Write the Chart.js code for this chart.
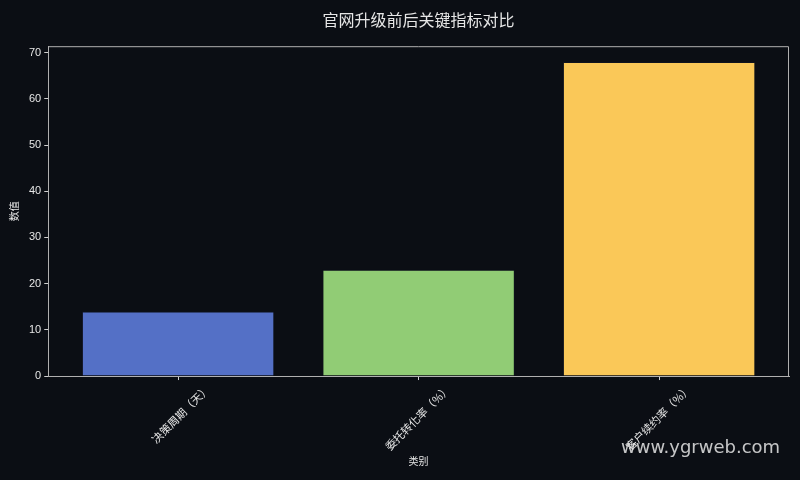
<!DOCTYPE html>
<html>
<head>
<meta charset="utf-8">
<script src="https://cdn.jsdelivr.net/npm/chart.js@4.4.1/dist/chart.umd.min.js"></script>
<style>
  html, body { margin: 0; padding: 0; background: #0b0e14; }
  #wrap { position: relative; width: 800px; height: 480px; }
  #watermark {
    position: absolute; left: 621px; top: 436px;
    font-family: "DejaVu Sans", sans-serif; font-size: 18px;
    color: rgba(230, 230, 230, 0.85);
  }
</style>
</head>
<body>
<div id="wrap">
  <canvas id="myChart" width="800" height="480"></canvas>
  <div id="watermark">www.ygrweb.com</div>
</div>
<script>
// 数据
const categories = ['决策周期（天）', '委托转化率（%）', '客户续约率（%）'];
const values = [14, 23, 68];
const barColors = ['#5470c6', '#91cc75', '#fac858'];
const yTicks = [0, 10, 20, 30, 40, 50, 60, 70];

const fontCJK = '"Noto Sans CJK SC", "DejaVu Sans", sans-serif';
const fontTick = '"Noto Sans CJK TC", "Noto Sans CJK SC", sans-serif';
const textColor = '#e6e6e6';
const spineColor = '#b0b0b0';

// draw the top / right spines like a full frame
const framePlugin = {
    id: 'frame',
    afterDraw(chart) {
        const a = chart.chartArea;
        const c = chart.ctx;
        c.save();
        c.strokeStyle = spineColor;
        c.lineWidth = 1;
        c.beginPath();
        c.moveTo(a.left, a.top + 0.5);
        c.lineTo(a.right - 0.5, a.top + 0.5);
        c.lineTo(a.right - 0.5, a.bottom);
        c.stroke();
        c.restore();
    }
};

const ctx = document.getElementById('myChart').getContext('2d');
window.myChart = new Chart(ctx, {
    type: 'bar',
    data: {
        datasets: [{
            label: '数值',
            data: values.map((v, i) => ({ x: i, y: v })),
            backgroundColor: barColors,
            borderColor: 'rgba(20, 24, 40, 0.5)',
            borderWidth: 1,
            barPercentage: 0.8,
            categoryPercentage: 1.0
        }]
    },
    options: {
        responsive: false,
        animation: false,
        layout: { padding: { left: 8, right: 11, top: 4, bottom: 5 } },
        plugins: {
            legend: { display: false },
            tooltip: { enabled: false },
            title: {
                display: true,
                fullSize: false,
                text: '官网升级前后关键指标对比',
                color: textColor,
                font: { family: fontCJK, size: 16, weight: 'normal' },
                padding: { top: 6, bottom: 17 }
            }
        },
        scales: {
            x: {
                type: 'linear',
                offset: false,
                min: -0.54,
                max: 2.54,
                afterBuildTicks(scale) {
                    scale.ticks = categories.map((c, i) => ({ value: i }));
                },
                ticks: {
                    color: textColor,
                    font: { family: fontTick, size: 11 },
                    minRotation: 45,
                    maxRotation: 45,
                    labelOffset: 30,
                    padding: 2,
                    callback: (v) => categories[v]
                },
                grid: {
                    display: true,
                    offset: false,
                    drawOnChartArea: false,
                    drawTicks: true,
                    tickLength: 4,
                    color: '#d0d0d0'
                },
                border: { color: spineColor, width: 1 },
                title: {
                    display: true,
                    text: '类别',
                    color: textColor,
                    font: { family: fontCJK, size: 10 },
                    padding: { top: 0, bottom: 8 }
                }
            },
            y: {
                min: 0,
                max: 71.4,
                afterBuildTicks(scale) {
                    scale.ticks = yTicks.map(v => ({ value: v }));
                },
                ticks: {
                    color: textColor,
                    font: { family: '"Liberation Sans", sans-serif', size: 11 },
                    padding: 3
                },
                grid: {
                    display: true,
                    drawOnChartArea: false,
                    drawTicks: true,
                    tickLength: 4,
                    color: '#d0d0d0'
                },
                border: { color: spineColor, width: 1 },
                title: {
                    display: true,
                    text: '数值',
                    color: textColor,
                    font: { family: fontCJK, size: 10 },
                    padding: { top: 0, bottom: 6 }
                }
            }
        }
    },
    plugins: [framePlugin]
});
</script>
</body>
</html>
